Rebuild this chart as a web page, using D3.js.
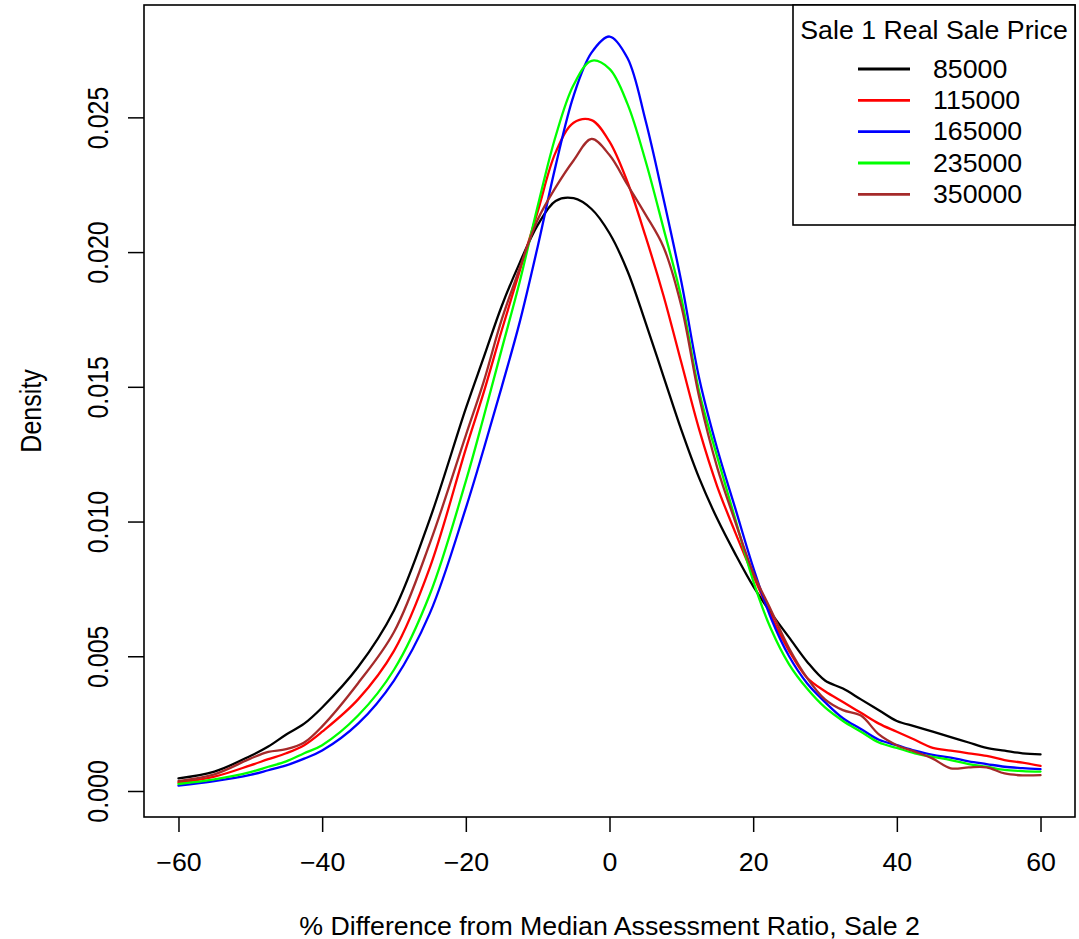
<!DOCTYPE html>
<html>
<head>
<meta charset="utf-8">
<script src="https://cdn.jsdelivr.net/npm/d3@7"></script>
<style>
  html, body { margin: 0; padding: 0; background: #fff; }
  svg { display: block; font-family: "Liberation Sans", Arial, Helvetica, sans-serif; }
</style>
</head>
<body>
<svg id="chart" width="1079" height="939"></svg>
<script>
// ---- data ----
const xGrid = [-60,-55,-50,-47.5,-45,-42.5,-40,-35,-30,-25,-20,-17.5,-15,-12.5,-10,-7.5,-5,-2.5,0,2.5,5,7.5,10,12.5,15,17.5,20,22.5,25,27.5,30,32.5,35,37.5,40,42.5,45,47.5,50,52.5,55,57.5,60];

const seriesNames = ["85000", "115000", "165000", "235000", "350000"];
const seriesColors = ["#000000", "#FF0000", "#0000FF", "#00FF00", "#A52A2A"];

const dens85000  = [0.00047,0.00072,0.0013,0.00165,0.0021,0.0025,0.0031,0.0046,0.0067,0.0101,0.0142,0.0161,0.0180,0.0196,0.0210,0.0219,0.0220,0.0216,0.0207,0.0193,0.0174,0.0154,0.0134,0.0116,0.0101,0.0088,0.0076,0.0066,0.0057,0.0048,0.0041,0.0038,0.0034,0.0030,0.0026,0.0024,0.0022,0.0020,0.0018,0.0016,0.0015,0.0014,0.00136];
const dens115000 = [0.00031,0.00053,0.00095,0.00118,0.0014,0.0017,0.0022,0.0034,0.0052,0.0083,0.0127,0.0148,0.0171,0.0193,0.0215,0.0237,0.0248,0.0249,0.0241,0.0226,0.0206,0.0184,0.0159,0.0134,0.0113,0.0096,0.0080,0.0065,0.0052,0.0042,0.0037,0.0033,0.0029,0.0025,0.0022,0.0019,0.0016,0.0015,0.0014,0.0013,0.00115,0.00105,0.00093];
const dens165000 = [0.0002,0.00037,0.0006,0.00077,0.00095,0.0012,0.0015,0.0025,0.0041,0.0066,0.0105,0.0127,0.0150,0.0174,0.0202,0.0232,0.0258,0.0274,0.0280,0.0272,0.0249,0.0220,0.0189,0.0153,0.0127,0.0105,0.0083,0.0064,0.0050,0.0040,0.0033,0.0027,0.0023,0.0019,0.0017,0.0015,0.00134,0.00124,0.0011,0.0010,0.0009,0.00085,0.00081];
const dens235000 = [0.00026,0.00043,0.0007,0.0009,0.0011,0.0014,0.0017,0.0028,0.0045,0.0073,0.0115,0.0139,0.0164,0.0189,0.0217,0.0243,0.0262,0.0271,0.0268,0.0255,0.0234,0.0209,0.0183,0.0148,0.0124,0.0101,0.0078,0.0060,0.0047,0.0038,0.0031,0.0026,0.0022,0.0018,0.0016,0.0014,0.00127,0.00115,0.0010,0.0009,0.00078,0.00074,0.00072];
const dens350000 = [0.00037,0.00062,0.0012,0.00145,0.00155,0.0018,0.0024,0.0040,0.0059,0.0092,0.0132,0.0152,0.0175,0.0194,0.0212,0.0224,0.0234,0.0242,0.0236,0.0225,0.0214,0.0202,0.0180,0.0146,0.0120,0.0100,0.0081,0.0067,0.0053,0.0042,0.0034,0.0030,0.0028,0.0021,0.0017,0.00146,0.0012,0.00084,0.00088,0.00088,0.00065,0.00058,0.00059];

const seriesValues = [dens85000, dens115000, dens165000, dens235000, dens350000];

const xTicks = [-60, -40, -20, 0, 20, 40, 60];
const yTicks = [0.000, 0.005, 0.010, 0.015, 0.020, 0.025];
const xTitle = "% Difference from Median Assessment Ratio, Sale 2";
const yTitle = "Density";
const legendTitle = "Sale 1 Real Sale Price";

// ---- layout ----
const L = 144, R = 1075, T = 5, B = 817;
const SX = 1.07;   // horizontal glyph stretch seen in the reference text
const svg = d3.select("#chart");

const x = d3.scaleLinear().domain([-64.8, 64.8]).range([L, R]);
const y = d3.scaleLinear().domain([-0.000965, 0.02917]).range([B, T]);

// curves
const line = d3.line()
  .x((d, i) => x(xGrid[i]))
  .y(d => y(d))
  .curve(d3.curveCatmullRom.alpha(0.5));

const curves = svg.append("g");
seriesValues.forEach((vals, k) => {
  curves.append("path")
    .attr("d", line(vals))
    .attr("fill", "none")
    .attr("stroke", seriesColors[k])
    .attr("stroke-width", 2.3)
    .attr("stroke-linejoin", "round")
    .attr("stroke-linecap", "round");
});

// x axis
const xAxis = svg.append("g")
  .attr("transform", `translate(0,${B})`)
  .call(d3.axisBottom(x).tickValues(xTicks).tickSize(15).tickPadding(21).tickFormat(d3.format("d")));
xAxis.select(".domain").remove();
xAxis.selectAll(".tick line").attr("stroke", "#000").attr("stroke-width", 1.5);
xAxis.selectAll(".tick text").attr("font-size", 25).attr("fill", "#000")
  .attr("transform", `scale(${SX},1)`)
  .attr("font-family", "'Liberation Sans', Arial, sans-serif");

// y axis
const yAxis = svg.append("g")
  .attr("transform", `translate(${L},0)`)
  .call(d3.axisLeft(y).tickValues(yTicks).tickSize(16).tickFormat(d3.format(".3f")));
yAxis.select(".domain").remove();
yAxis.selectAll(".tick line").attr("stroke", "#000").attr("stroke-width", 1.5);
yAxis.selectAll(".tick text")
  .attr("x", null).attr("dy", null)
  .attr("text-anchor", "middle")
  .attr("transform", "translate(-36,0) rotate(-90) scale(1,1.2)")
  .attr("font-size", 25).attr("fill", "#000")
  .attr("font-family", "'Liberation Sans', Arial, sans-serif");

// plot box
svg.append("rect")
  .attr("x", L).attr("y", T).attr("width", R - L).attr("height", B - T)
  .attr("fill", "none").attr("stroke", "#000").attr("stroke-width", 1.6);

// axis titles
svg.append("text")
  .attr("transform", `translate(${(L + R) / 2},935) scale(${SX},1)`)
  .attr("text-anchor", "middle").attr("font-size", 25).attr("fill", "#000")
  .text(xTitle);
svg.append("text")
  .attr("transform", `translate(41,${(T + B) / 2}) rotate(-90) scale(1,1.2)`)
  .attr("text-anchor", "middle").attr("font-size", 25).attr("fill", "#000")
  .text(yTitle);

// legend
const lg = svg.append("g");
lg.append("rect")
  .attr("x", 793).attr("y", T).attr("width", R - 793).attr("height", 225 - T)
  .attr("fill", "#fff").attr("stroke", "#000").attr("stroke-width", 1.6);
lg.append("text")
  .attr("transform", `translate(${(793 + R) / 2},38.5) scale(${SX},1)`)
  .attr("text-anchor", "middle").attr("font-size", 25).attr("fill", "#000")
  .text(legendTitle);
const legY = d3.scalePoint().domain(seriesNames).range([69, 194.3]);
seriesNames.forEach((name, k) => {
  lg.append("line")
    .attr("x1", 858).attr("x2", 910)
    .attr("y1", legY(name)).attr("y2", legY(name))
    .attr("stroke", seriesColors[k]).attr("stroke-width", 2.8);
  lg.append("text")
    .attr("transform", `translate(933,${legY(name) + 8.8}) scale(${SX},1)`)
    .attr("font-size", 25).attr("fill", "#000")
    .text(name);
});
</script>
</body>
</html>
